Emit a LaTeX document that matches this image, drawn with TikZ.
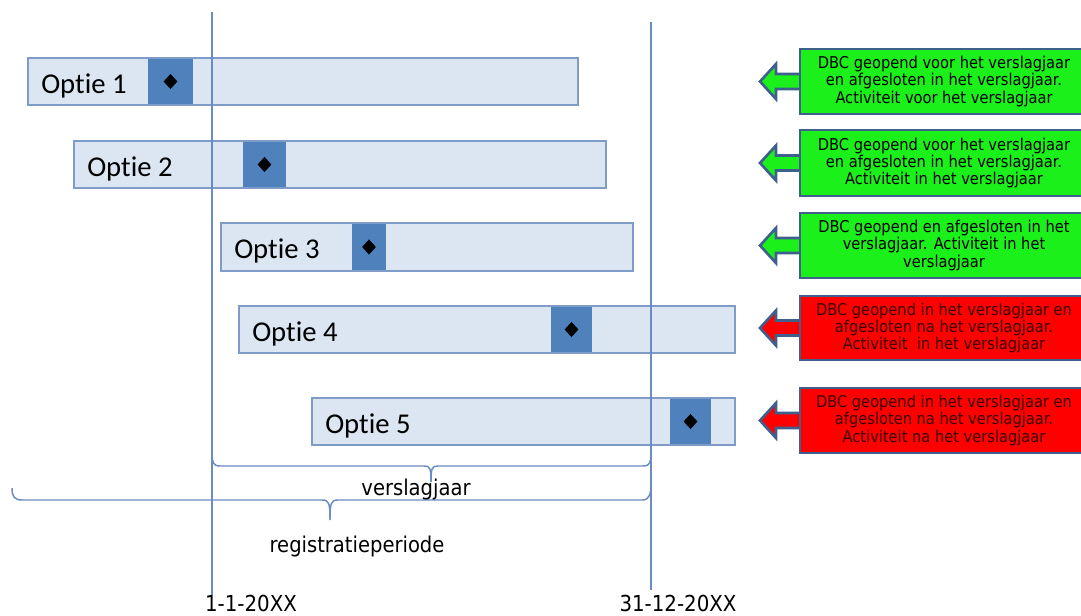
\documentclass[tikz,border=0pt]{standalone}
\usepackage{fontspec}
\setmainfont{Carlito}[Ligatures=NoCommon]
\newfontfamily\tah{DejaVu Sans Condensed}
\usetikzlibrary{calc,shapes.geometric}
\definecolor{barfill}{HTML}{DCE6F2}
\definecolor{barline}{HTML}{7F9BC8}
\definecolor{block}{HTML}{4F81BD}
\definecolor{vline}{HTML}{6A8BC3}
\definecolor{boxline}{HTML}{3F5F8C}
\definecolor{okgreen}{HTML}{1BF01B}
\definecolor{badred}{HTML}{FF0000}
\definecolor{redtext}{HTML}{3A0000}
\tikzset{
  bar/.style={draw=barline, line width=0.8pt, fill=barfill, inner sep=0pt},
  blockbox/.style={fill=block, inner sep=0pt},
  diam/.style={diamond, fill=black, inner sep=0pt, minimum width=10.5pt, minimum height=11.5pt},
  optlabel/.style={anchor=west, inner sep=0pt, font=\fontsize{21.5}{24}\selectfont},
  infobox/.style={draw=boxline, line width=2pt, inner sep=0pt},
  infotext/.style={font=\tah\fontsize{12.2}{13.1}\selectfont, align=center, inner sep=0pt},
  infoarrow/.style={draw=boxline, line width=2pt, line join=miter},
  vl/.style={draw=vline, line width=0.9pt},
  brace/.style={draw=vline, line width=1.1pt},
  bottomlabel/.style={font=\tah\fontsize{16.3}{18}\selectfont, inner sep=0pt},
  datelabel/.style={font=\tah\fontsize{16.5}{18}\selectfont, inner sep=0pt},
}
% \optbar{name}{x1}{x2}{y1}{y2}{d1}{d2}{label}
\newcommand{\optbar}[8]{%
  \node[bar, minimum width={(#3-#2)*0.75pt}, minimum height={(#5-#4)*0.75pt}]
    (#1) at ({(#2+#3)/2},{(#4+#5)/2}) {};
  \node[blockbox, minimum width={(#7-#6)*0.75pt}, minimum height={(#5-#4)*0.75pt-0.8pt}]
    (#1b) at ({(#6+#7)/2},{(#4+#5)/2}) {};
  \node[diam] (#1d) at (#1b.center) {};
  \node[optlabel] (#1t) at ({#2+13},{(#4+#5)/2+4}) {#8};
}
% \infoitem{name}{y1}{y2}{colour}{textcolour}{text}
\newcommand{\infoitem}[6]{%
  \coordinate (#1w) at (800,{(#2+#3)/2});
  \draw[infoarrow, fill=#4] ($(#1w)+(1,-7.5)$) -- ($(#1w)+(-24,-7.5)$) -- ($(#1w)+(-24,-17.5)$)
     -- ($(#1w)+(-40,0)$) -- ($(#1w)+(-24,17.5)$) -- ($(#1w)+(-24,7.5)$) -- ($(#1w)+(1,7.5)$);
  \node[infobox, fill=#4, minimum width={290*0.75pt}, minimum height={(#3-#2)*0.75pt}]
    (#1) at ({800+145},{(#2+#3)/2}) {};
  \node[infotext, text=#5] (#1t) at (944,{(#2+#3)/2}) {#6};
}
\begin{document}
\begin{tikzpicture}[x=0.75pt,y=-0.75pt]
\clip (0,0) rectangle (1081,616);
\useasboundingbox (0,0) rectangle (1081,616);
\fill[white] (0,0) rectangle (1081,616);

\optbar{o1}{28}{578}{58}{105}{148}{193}{Optie 1}
\optbar{o2}{74}{606}{141}{188}{243}{286}{Optie 2}
\optbar{o3}{221}{633}{223}{271}{352}{386}{Optie 3}
\optbar{o4}{239}{735}{306}{353}{551}{592}{Optie 4}
\optbar{o5}{312}{735}{398}{445}{670}{711}{Optie 5}

% vertical date lines
\coordinate (s1) at (212,12);
\coordinate (s2) at (212,595);
\coordinate (e1) at (651,22);
\coordinate (e2) at (651,590);
\draw[vl] (s1) -- (s2);
\draw[vl] (e1) -- (e2);

% verslagjaar brace
\coordinate (vL) at (212,454);
\coordinate (vR) at (651,454);
\coordinate (vT) at (431,482);
\draw[brace] (vL) .. controls (212,462) and (213,466) .. (220,466) -- (424,466)
  .. controls (430,466) and (431,468) .. (vT);
\draw[brace] (vR) .. controls (651,462) and (650,466) .. (643,466) -- (438,466)
  .. controls (432,466) and (431,468) .. (vT);
% registratieperiode brace
\coordinate (rL) at (12,488);
\coordinate (rR) at (651,481);
\coordinate (rT) at (330,520);
\draw[brace] (rL) .. controls (12,496) and (14,500) .. (22,500) -- (322,500)
  .. controls (329,500) and (330,503) .. (rT);
\draw[brace] (rR) .. controls (651,494) and (650,500) .. (642,500) -- (338,500)
  .. controls (331,500) and (330,503) .. (rT);

\node[bottomlabel] (lv) at (416,490) {verslagjaar};
\node[bottomlabel] (lr) at (357,547) {registratieperiode};
\node[datelabel] (d1) at (251,603) {1-1-20XX};
\node[datelabel] (d2) at (678,603) {31-12-20XX};

\infoitem{i1}{49}{114}{okgreen}{black}{DBC geopend voor het verslagjaar\\en afgesloten in het verslagjaar.\\Activiteit voor het verslagjaar}
\infoitem{i2}{130}{196}{okgreen}{black}{DBC geopend voor het verslagjaar\\en afgesloten in het verslagjaar.\\Activiteit in het verslagjaar}
\infoitem{i3}{213}{278}{okgreen}{black}{DBC geopend en afgesloten in het\\verslagjaar. Activiteit in het\\verslagjaar}
\infoitem{i4}{296}{360}{badred}{redtext}{DBC geopend in het verslagjaar en\\afgesloten na het verslagjaar.\\Activiteit\ \ in het verslagjaar}
\infoitem{i5}{388}{453}{badred}{redtext}{DBC geopend in het verslagjaar en\\afgesloten na het verslagjaar.\\Activiteit na het verslagjaar}
\end{tikzpicture}
\end{document}
